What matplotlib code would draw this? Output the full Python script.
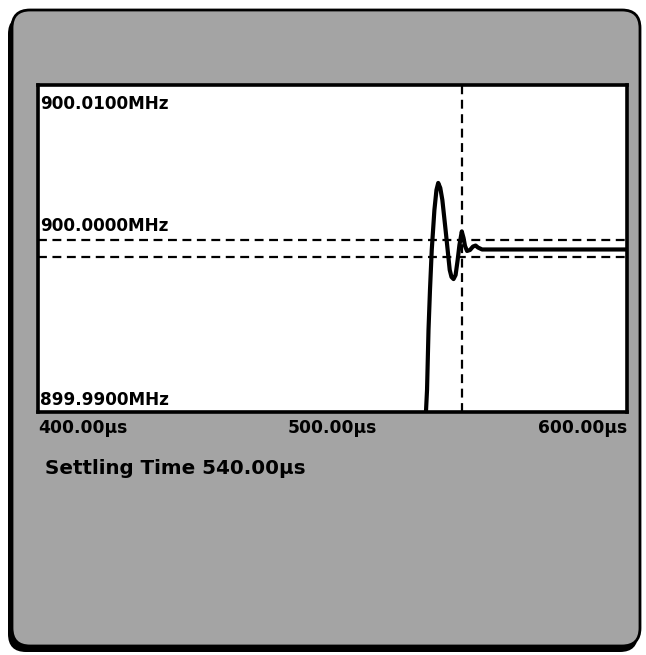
import matplotlib
matplotlib.use("Agg")
import matplotlib.pyplot as plt
from matplotlib.patches import FancyBboxPatch
from matplotlib.transforms import blended_transform_factory

# ---- data ----
time_us = [531.6, 532.1, 532.6, 533.1, 533.7, 534.6, 535.3, 535.9, 536.6, 537.3,
           538.4, 539.1, 539.8, 540.4, 541.1, 541.8, 542.5, 543.1, 543.9, 544.5,
           545.0, 545.7, 546.7, 547.7, 548.6, 549.4, 550.8, 553.5, 600.0]
freq_mhz = [899.98951, 899.99135, 899.99502, 899.99746, 899.99991, 900.00235,
            900.00358, 900.00401, 900.00370, 900.00297, 900.00113, 899.99991,
            899.99869, 899.99826, 899.99813, 899.99838, 899.99930, 900.00021,
            900.00104, 900.00064, 900.00015, 899.99985, 899.99991, 900.00012,
            900.00018, 900.00006, 899.99994, 899.99994, 899.99994]
center_mhz = 900.0
tolerance_mhz = 0.0005
marker_us = 544.0
x_ticks = [400, 500, 600]
x_tick_labels = ["400.00\u00b5s", "500.00\u00b5s", "600.00\u00b5s"]
y_ticks = [900.01, 900.00, 899.99]
y_tick_labels = ["900.0100MHz", "900.0000MHz", "899.9900MHz"]
settling_text = "Settling Time 540.00\u00b5s"

W, H = 646, 655
fig = plt.figure(figsize=(W / 100, H / 100), dpi=100)
fig.patch.set_facecolor("white")

# background panel in pixel coordinates
bg = fig.add_axes([0, 0, 1, 1])
bg.set_xlim(0, W)
bg.set_ylim(H, 0)
bg.axis("off")
shadow = FancyBboxPatch((8 + 18, 16 + 18), 630 - 36, 636 - 36,
                        boxstyle="round,pad=18", facecolor="black",
                        edgecolor="black", linewidth=0)
bg.add_patch(shadow)
panel = FancyBboxPatch((12 + 18, 10 + 18), 628 - 36, 636 - 36,
                       boxstyle="round,pad=18", facecolor="#a4a4a4",
                       edgecolor="black", linewidth=2.0)
bg.add_patch(panel)

# plot area
ax = fig.add_axes([38 / W, (H - 412) / H, (627 - 38) / W, (412 - 85) / H])
ax.set_facecolor("white")
ax.set_xlim(400, 600)
ax.set_ylim(899.99, 900.01)
ax.set_xticks([])
ax.set_yticks([])
for s in ax.spines.values():
    s.set_linewidth(2.6)
    s.set_color("black")

dash = (0, (4, 2.5))
ax.axhline(center_mhz + tolerance_mhz, color="black", lw=1.6, linestyle=dash)
ax.axhline(center_mhz - tolerance_mhz, color="black", lw=1.6, linestyle=dash)
ax.axvline(marker_us, color="black", lw=1.6, linestyle=dash)

ax.plot(time_us, freq_mhz, color="black", lw=3.0, solid_joinstyle="round",
        solid_capstyle="round", clip_on=True)

font = "DejaVu Sans"
tr_y = blended_transform_factory(ax.transAxes, ax.transData)
vas = ["top", "bottom", "bottom"]
offs = [-0.0006, 0.0008, 0.0002]
for yv, lab, va, o in zip(y_ticks, y_tick_labels, vas, offs):
    ax.text(0.003, yv + o, lab, transform=tr_y, va=va, ha="left",
            fontsize=12.2, family=font, fontweight="bold", color="black")

tr_x = blended_transform_factory(ax.transData, ax.transAxes)
has = ["left", "center", "right"]
for xv, lab, ha in zip(x_ticks, x_tick_labels, has):
    ax.text(xv, -0.05, lab, transform=tr_x, va="center", ha=ha,
            fontsize=12.3, family=font, fontweight="bold", color="black",
            clip_on=False)

fig.text(45 / W, (H - 468) / H, settling_text, fontsize=14.3, family=font,
         fontweight="bold", va="center", ha="left", color="black")

fig.savefig("out.png", dpi=100, facecolor="white")
